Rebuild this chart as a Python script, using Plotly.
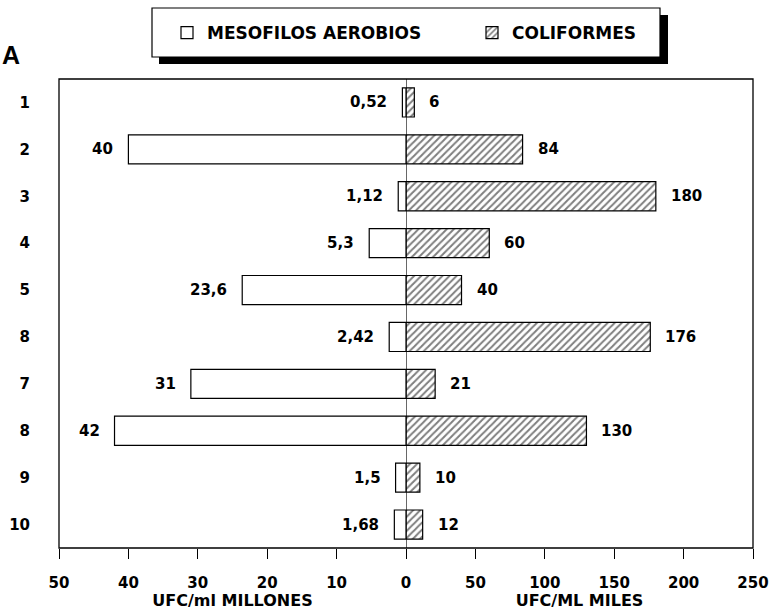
import plotly.graph_objects as go

# ---- data ----
row_pos = [1, 2, 3, 4, 5, 6, 7, 8, 9, 10]
row_labels = ["1", "2", "3", "4", "5", "8", "7", "8", "9", "10"]
mesofilos = [0.52, 40, 1.12, 5.3, 23.6, 2.42, 31, 42, 1.5, 1.68]      # UFC/ml millones
coliformes = [6, 84, 180, 60, 40, 176, 21, 130, 10, 12]               # UFC/ml miles
left_ticks = [50, 40, 30, 20, 10]
right_ticks = [0, 50, 100, 150, 200, 250]

FONT = "DejaVu Sans"

# layout geometry (px)
W, H = 775, 610
L, R, T, B = 59, 22, 79, 62
PW, PH = W - L - R, H - T - B


def px_x(p):
    return (p - L) / PW


def px_y(p):
    return (H - B - p) / PH


def fmt(v):
    return f"{v:g}".replace(".", ",")


fig = go.Figure()
fig.add_trace(go.Bar(
    name="MESOFILOS AEROBIOS", x=mesofilos, y=row_pos, orientation="h",
    xaxis="x", yaxis="y", width=0.62, legend="legend",
    marker=dict(color="white", line=dict(color="black", width=1.2)),
    hoverinfo="x+y",
))
fig.add_trace(go.Bar(
    name="COLIFORMES", x=coliformes, y=row_pos, orientation="h",
    xaxis="x2", yaxis="y", width=0.62, legend="legend2",
    marker=dict(color="white", line=dict(color="black", width=1.2),
                pattern=dict(shape="/", fgcolor="black", bgcolor="white",
                             size=5, solidity=0.4)),
    hoverinfo="x+y",
))

annotations = []
for yv, v in zip(row_pos, mesofilos):
    annotations.append(dict(x=v, y=yv, xref="x", yref="y", text=fmt(v),
                            xanchor="right", xshift=-13, showarrow=False,
                            font=dict(family=FONT, size=15, color="black", weight="bold")))
for yv, v in zip(row_pos, coliformes):
    annotations.append(dict(x=v, y=yv, xref="x2", yref="y", text=fmt(v),
                            xanchor="left", xshift=13, showarrow=False,
                            font=dict(family=FONT, size=15, color="black", weight="bold")))
annotations.append(dict(x=px_x(11), y=px_y(55), xref="paper", yref="paper", text="A",
                        showarrow=False, xanchor="center", yanchor="middle",
                        font=dict(family="Liberation Sans", size=25, color="black", weight="bold")))

shapes = [
    # frame
    dict(type="rect", xref="paper", yref="paper", x0=0, x1=1, y0=0, y1=1,
         line=dict(color="black", width=1.3), layer="above"),
    # centre line at zero
    dict(type="line", xref="x2", yref="paper", x0=0, x1=0, y0=0, y1=1,
         line=dict(color="black", width=1.2), layer="above"),
    # legend drop shadow
    dict(type="rect", xref="paper", yref="paper",
         x0=px_x(159), x1=px_x(668), y0=px_y(64), y1=px_y(15),
         fillcolor="black", line=dict(width=0), layer="below"),
    # legend box
    dict(type="rect", xref="paper", yref="paper",
         x0=px_x(152), x1=px_x(660), y0=px_y(57), y1=px_y(8),
         fillcolor="white", line=dict(color="black", width=1.2), layer="below"),
]

tickfont = dict(family=FONT, size=15, color="black", weight="bold")
titlefont = dict(family=FONT, size=16, color="black", weight="bold")
legfont = dict(family=FONT, size=17, color="black", weight="bold")

fig.update_layout(
    width=W, height=H,
    margin=dict(l=L, r=R, t=T, b=B, autoexpand=False),
    paper_bgcolor="white", plot_bgcolor="white",
    barmode="overlay",
    showlegend=True,
    legend=dict(orientation="h", x=px_x(167), xanchor="left", y=px_y(33), yanchor="middle",
                bgcolor="rgba(0,0,0,0)", borderwidth=0, font=legfont, itemclick=False),
    legend2=dict(orientation="h", x=px_x(472), xanchor="left", y=px_y(33), yanchor="middle",
                 bgcolor="rgba(0,0,0,0)", borderwidth=0, font=legfont, itemclick=False),
    xaxis=dict(domain=[0, 0.5], range=[50, 0], tickvals=left_ticks, automargin=False,
               ticks="outside", ticklen=10, tickcolor="black", tickwidth=1.2,
               showgrid=False, zeroline=False, showline=False,
               tickfont=tickfont, ticklabelstandoff=11,
               title=dict(text="UFC/ml MILLONES", font=titlefont, standoff=8)),
    xaxis2=dict(domain=[0.5, 1], range=[0, 250], tickvals=right_ticks, anchor="y",
                automargin=False,
                ticks="outside", ticklen=10, tickcolor="black", tickwidth=1.2,
                showgrid=False, zeroline=False, showline=False,
                tickfont=tickfont, ticklabelstandoff=11,
                title=dict(text="UFC/ML MILES", font=titlefont, standoff=8)),
    yaxis=dict(range=[10.5, 0.5], tickvals=row_pos, ticktext=row_labels, automargin=False,
               ticks="", showgrid=False, zeroline=False, showline=False,
               tickfont=tickfont, ticklabelstandoff=28),
    annotations=annotations,
    shapes=shapes,
)

fig.write_html("out.html")
